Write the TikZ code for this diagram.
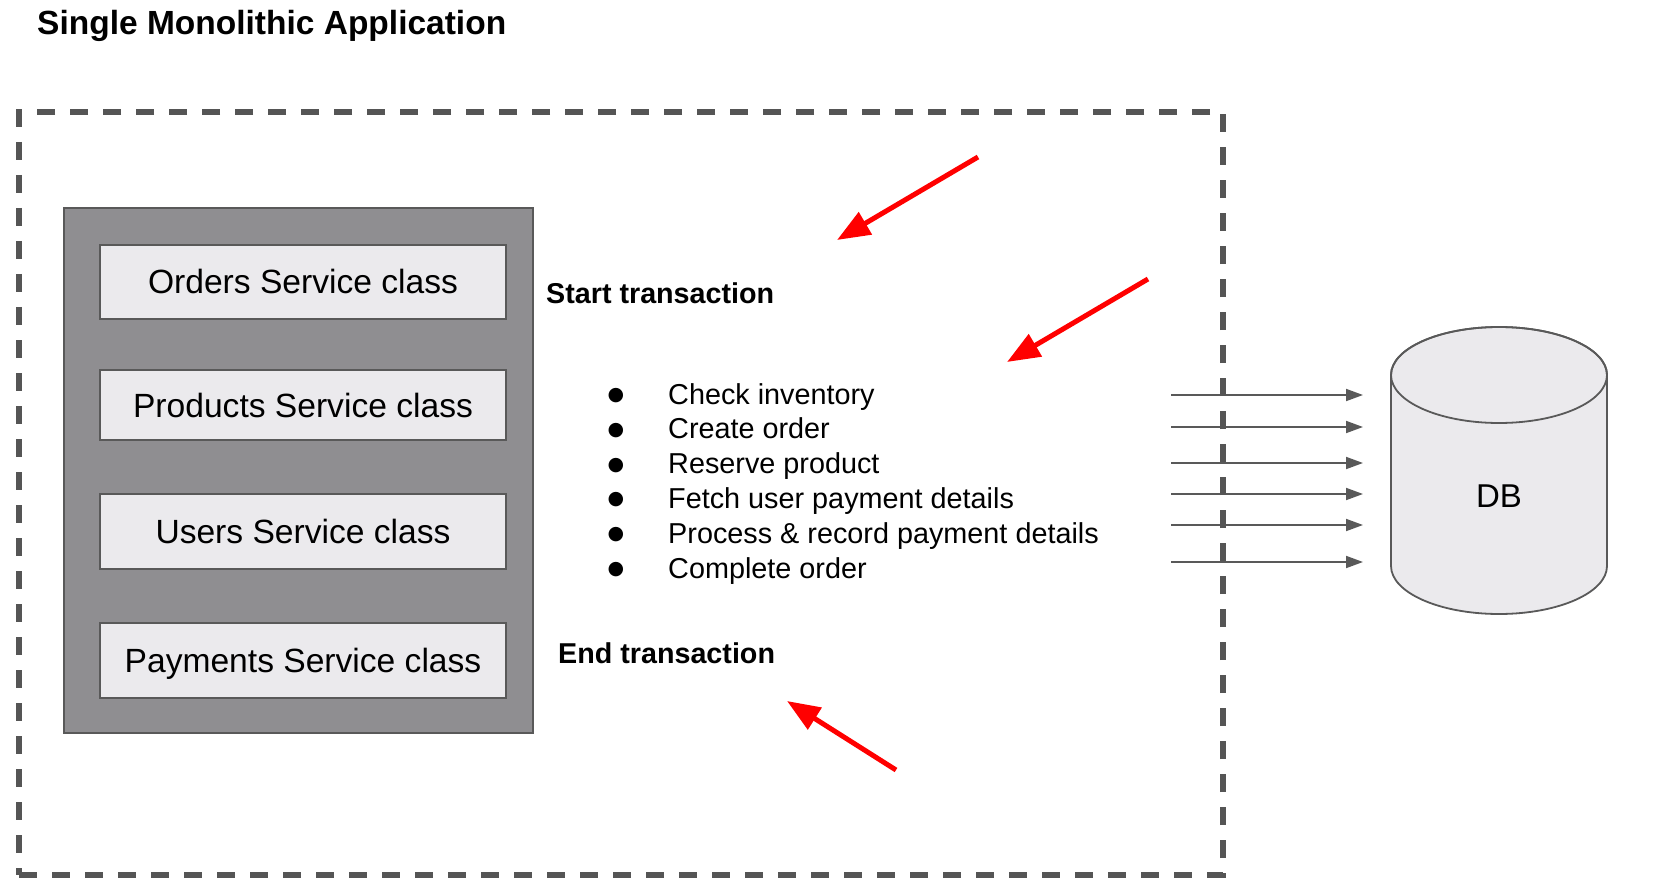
\documentclass[tikz,border=0pt]{standalone}
\usepackage{fontspec}
\setmainfont{Liberation Sans}
\newfontfamily\symfont{DejaVu Sans}
\usetikzlibrary{arrows.meta}
\definecolor{edgegray}{RGB}{89,89,89}
\definecolor{framegray}{RGB}{85,85,85}
\definecolor{contfill}{RGB}{143,142,145}
\definecolor{boxfill}{RGB}{235,234,237}
\definecolor{hotred}{RGB}{255,0,0}
\begin{document}
\begin{tikzpicture}[x=1pt,y=-1pt,
  svc/.style={draw=edgegray, line width=1.5pt, fill=boxfill, minimum width=406pt,
    font=\fontsize{33.6}{40}\selectfont, text height=24pt, text depth=0pt, inner sep=0pt},
  container/.style={draw=edgegray, line width=1.5pt, fill=contfill, inner sep=0pt},
  frame/.style={draw=framegray, line width=6pt, dash pattern=on 18pt off 15pt, inner sep=0pt},
  boldlabel/.style={font=\fontsize{28.7}{34}\selectfont\bfseries, inner sep=0pt, anchor=base west},
  item/.style={font=\fontsize{28.8}{34}\selectfont, inner sep=0pt, anchor=base west},
  dot/.style={font=\symfont\fontsize{19}{19}\selectfont, inner sep=0pt, anchor=center},
  redarr/.style={draw=hotred, line width=5pt, -{Triangle[length=33pt,width=25pt]}},
  dbarr/.style={draw=edgegray, line width=1.8pt, -{Triangle[length=17pt,width=12pt]}}
]
\useasboundingbox (0,0) rectangle (1655,896);
\fill[white] (0,0) rectangle (1655,896);

% title
\node[font=\fontsize{33.5}{40}\selectfont\bfseries, inner sep=0pt, anchor=base west] (title) at (37,35) {Single Monolithic Application};

% container with service classes
\node[container, minimum width=469pt, minimum height=525pt] (app) at (298.5,470.5) {};
\node[svc, minimum height=74pt] (orders) at (303,282) {Orders Service class};
\node[svc, minimum height=70pt] (products) at (303,405) {Products Service class};
\node[svc, minimum height=75pt] (users) at (303,531.5) {Users Service class};
\node[svc, minimum height=75pt] (payments) at (303,660.5) {Payments Service class};

% transaction labels
\node[boldlabel] (start) at (546,303) {Start transaction};
\node[boldlabel] (end) at (558,663) {End transaction};

% list
\foreach \i/\t in {0/Check inventory,1/Create order,2/Reserve product,3/Fetch user payment details,4/Process \& record payment details,5/Complete order}{
  \node[item] (it\i) at (668,{404+34.8*\i}) {\t};
  \node[dot] (bu\i) at (616,{395.5+34.8*\i}) {●};
}

% DB cylinder
\path[fill=boxfill, draw=edgegray, line width=1.8pt]
  (1391,375) -- (1391,566) arc[start angle=180, end angle=0, x radius=108, y radius=48]
  -- (1607,375) arc[start angle=0, end angle=-180, x radius=108, y radius=48] -- cycle;
\draw[edgegray, line width=1.8pt] (1499,375) ellipse [x radius=108, y radius=48];
\node[font=\fontsize{33}{40}\selectfont, inner sep=0pt] (db) at (1499,496) {DB};

% arrows to DB
\foreach \j/\y in {1/395,2/427,3/463,4/494,5/525,6/562}{
  \coordinate (g\j s) at (1171,\y);
  \coordinate (g\j e) at (1363,\y);
  \draw[dbarr] (g\j s) -- (g\j e);
}

% dashed application frame
\node[frame, minimum width=1204pt, minimum height=763pt] (frame) at (621,493.5) {};

% red arrows
\coordinate (r1s) at (978,157); \coordinate (r1e) at (837,240);
\coordinate (r2s) at (1148,279); \coordinate (r2e) at (1007,362);
\coordinate (r3s) at (896,770); \coordinate (r3e) at (787,701);
\draw[redarr] (r1s) -- (r1e);
\draw[redarr] (r2s) -- (r2e);
\draw[redarr] (r3s) -- (r3e);
\end{tikzpicture}
\end{document}
